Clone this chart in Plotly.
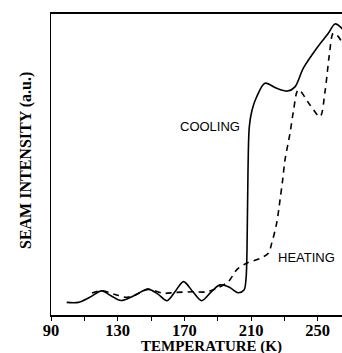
import plotly.graph_objects as go

# Cooling curve (solid)
cool_T = [99.4, 106.4, 113, 120.4, 126, 132, 140, 148.2, 154, 159.6, 164.5, 169.5, 175, 180.4, 186, 191.4, 197, 202.2, 205.8,
          207.0, 207.6, 208.2, 209.0, 210.6, 213.4, 218.4, 225.4, 231.9, 236.4, 241.4, 249.4, 256.4, 260.4, 264.4, 266.5]
cool_I = [4.2, 4.2, 5.8, 8.0, 6.4, 4.8, 6.5, 8.6, 7.0, 4.75, 7.8, 11.1, 7.8, 4.75, 7.6, 10.0, 9.2, 7.4, 8.3,
          12.0, 21.6, 48.0, 62.6, 68.0, 72.5, 77.0, 75.3, 74.4, 75.8, 82.0, 88.6, 93.6, 96.7, 95.3, 93.5]

# Heating curve (dashed)
heat_T = [114.6, 120.4, 128.0, 134.4, 140.4, 148.2, 157.4, 164.4, 175.4, 183.4, 189.4, 196.4, 201.4, 207.4, 215.4, 220.4,
          222.4, 225.4, 227.4, 229.0, 230.4, 233.4, 235.4, 238.4, 245.4, 251.4, 254.4, 257.0, 259.4, 262.4, 266.0]
heat_I = [7.3, 8.1, 6.9, 5.9, 6.6, 8.5, 7.2, 7.5, 7.7, 7.7, 8.9, 11.1, 15.0, 17.2, 18.8, 20.5,
          23.8, 30.5, 38.2, 44.9, 51.5, 60.4, 67.5, 74.8, 69.8, 65.9, 74.2, 86.4, 93.6, 92.5, 89.0]

tick_vals = [90, 110, 130, 150, 170, 190, 210, 230, 250]
tick_text = ["90", "", "130", "", "170", "", "210", "", "250"]

fig = go.Figure()
fig.add_trace(go.Scatter(x=cool_T, y=cool_I, mode="lines",
                         line=dict(color="black", width=1.6, shape="spline", smoothing=0.9),
                         showlegend=False, hoverinfo="skip"))
fig.add_trace(go.Scatter(x=heat_T, y=heat_I, mode="lines",
                         line=dict(color="black", width=1.6, dash="6px,5px", shape="spline", smoothing=0.9),
                         showlegend=False, hoverinfo="skip"))

serif = "Liberation Serif, Times New Roman, serif"
sans = "Liberation Sans, Arial, sans-serif"

fig.update_layout(
    width=342, height=353, autosize=False,
    margin=dict(l=51, r=0, t=14, b=38),
    paper_bgcolor="white", plot_bgcolor="white",
    xaxis=dict(range=[90, 264.6], tickvals=tick_vals,
               ticktext=[f"<b>{t}</b>" if t else "" for t in tick_text],
               ticks="outside", ticklen=4, tickwidth=1.2, tickcolor="black",
               ticklabelstandoff=-5,
               showline=True, linecolor="black", linewidth=1.7, mirror=True,
               showgrid=False, zeroline=False,
               tickfont=dict(family=serif, size=16.5, color="black")),
    yaxis=dict(range=[0, 100], showticklabels=False, ticks="",
               showline=True, linecolor="black", linewidth=1.2,
               showgrid=False, zeroline=False),
    annotations=[
        dict(text="<b>TEMPERATURE (K)</b>", xref="paper", yref="paper", x=0.552, y=-0.105,
             showarrow=False, xanchor="center", yanchor="middle",
             font=dict(family=serif, size=15, color="black")),
        dict(text="<b>SEAM INTENSITY (a.u.)</b>", xref="paper", yref="paper", x=-0.0859, y=0.5116,
             showarrow=False, xanchor="center", yanchor="middle", textangle=-90,
             font=dict(family=serif, size=16, color="black")),
        dict(text="COOLING", x=185.6, y=62.5, showarrow=False, xanchor="center", yanchor="middle",
             font=dict(family=sans, size=13, color="black")),
        dict(text="HEATING", x=243.4, y=19.2, showarrow=False, xanchor="center", yanchor="middle",
             font=dict(family=sans, size=13, color="black")),
    ],
)

fig.write_html("out.html", config={"displayModeBar": False},
               post_script="document.body.style.margin='0';document.body.style.overflow='hidden';"
                           "document.documentElement.style.overflow='hidden';")
